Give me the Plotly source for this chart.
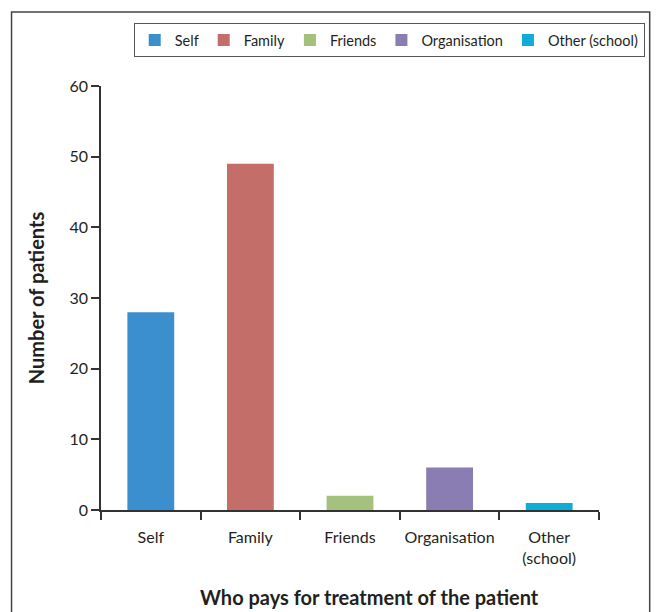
import plotly.graph_objects as go

categories = ["Self", "Family", "Friends", "Organisation", "Other (school)"]
tick_labels = ["Self", "Family", "Friends", "Organisation", "Other<br>(school)"]
values = [28, 49, 2, 6, 1]
colors = ["#3C8FCF", "#C46E69", "#A4C17D", "#8A7DB1", "#0EADD6"]

W, H = 657, 612
L, R, T, B = 101, 55, 86, 102
pw, ph = W - L - R, H - T - B

def px_x(x):
    return (x - L) / pw

def px_y(y):
    return (H - B - y) / ph

font = "Lato, 'Open Sans', sans-serif"

fig = go.Figure()
for cat, lab, v, c in zip(categories, tick_labels, values, colors):
    fig.add_trace(go.Bar(x=[lab], y=[v], name=cat, marker=dict(color=c, line=dict(width=0)),
                         width=0.47))

fig.update_layout(
    width=W, height=H,
    margin=dict(l=L, r=R, t=T, b=B),
    paper_bgcolor="white", plot_bgcolor="white",
    barmode="overlay",
    font=dict(family=font, size=16, color="#231F20"),
    showlegend=True,
    legend=dict(orientation="h", x=px_x(648), xanchor="right", y=px_y(23), yanchor="top",
                bordercolor="#555", borderwidth=1, bgcolor="white",
                font=dict(size=14.5), tracegroupgap=0),
    xaxis=dict(categoryorder="array", categoryarray=tick_labels,
               showline=True, linecolor="#333", linewidth=1.5,
               ticks="outside", tickson="boundaries", ticklen=8, tickcolor="#333", tickwidth=1.5,
               showgrid=False, tickfont=dict(size=16), tickangle=0, ticklabelstandoff=12),
    yaxis=dict(range=[0, 60], tickvals=[0, 10, 20, 30, 40, 50, 60],
               showline=True, linecolor="#333", linewidth=1.5,
               ticks="outside", ticklen=8, tickcolor="#333", tickwidth=1.5,
               showgrid=False, zeroline=False, tickfont=dict(size=16),
               title=dict(text="<b>Number of patients</b>", font=dict(size=20), standoff=19)),
    shapes=[dict(type="rect", xref="paper", yref="paper",
                 x0=px_x(11), x1=px_x(653), y0=px_y(625), y1=px_y(12),
                 line=dict(color="#444", width=1.5), fillcolor="rgba(0,0,0,0)", layer="below")],
    annotations=[dict(text="<b>Who pays for treatment of the patient</b>", xref="paper", yref="paper",
                      x=px_x(371), y=px_y(597), xanchor="center", yanchor="middle",
                      showarrow=False, font=dict(size=20))],
)

fig.write_html("out.html", config={"displayModeBar": False},
               post_script="document.body.style.margin='0';")
